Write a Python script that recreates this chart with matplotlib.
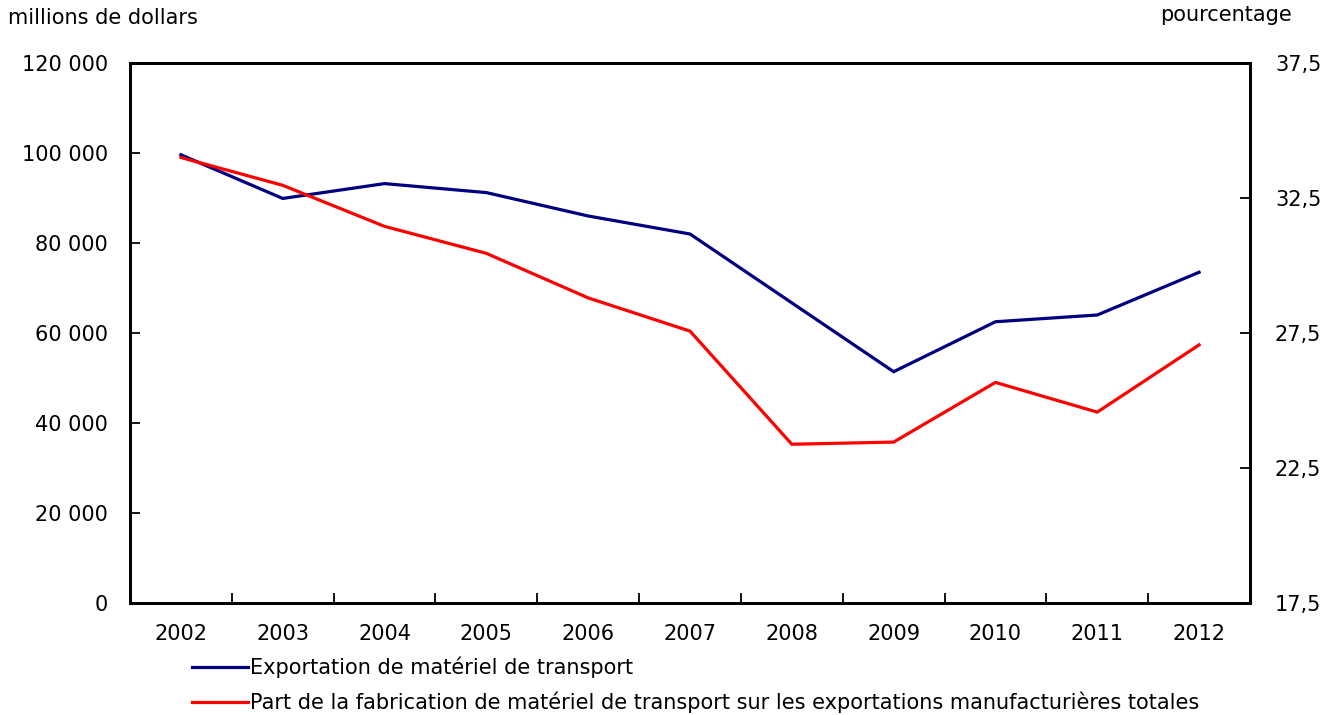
import matplotlib
matplotlib.use('Agg')
import matplotlib.pyplot as plt
from matplotlib.ticker import FuncFormatter, FixedLocator

years = ['2002', '2003', '2004', '2005', '2006', '2007', '2008', '2009', '2010', '2011', '2012']
exports_musd = [99600, 89900, 93200, 91200, 86000, 82000, 66700, 51400, 62500, 64000, 73500]
share_pct = [34.0, 32.97, 31.45, 30.45, 28.8, 27.57, 23.38, 23.46, 25.67, 24.57, 27.06]

left_ticks = [0, 20000, 40000, 60000, 80000, 100000, 120000]
right_ticks = [17.5, 22.5, 27.5, 32.5, 37.5]

label_exports = 'Exportation de matériel de transport'
label_share = 'Part de la fabrication de matériel de transport sur les exportations manufacturières totales'

NAVY = '#000080'
RED = '#ff0000'
FS = 15

plt.rcParams['font.family'] = ['DejaVu Sans']

fig = plt.figure(figsize=(13.36, 7.15), dpi=100)
ax = fig.add_axes([130 / 1336, 112 / 715, 1120 / 1336, 540 / 715])
ax2 = ax.twinx()

x = list(range(len(years)))
l1, = ax.plot(x, exports_musd, color=NAVY, linewidth=2.3, solid_joinstyle='miter', zorder=3)
l2, = ax2.plot(x, share_pct, color=RED, linewidth=2.3, solid_joinstyle='miter', zorder=3)

ax.set_xlim(-0.5, len(years) - 0.5)
ax.set_ylim(0, 120000)
ax2.set_ylim(17.5, 37.5)

ax.set_yticks(left_ticks)
ax.yaxis.set_major_formatter(FuncFormatter(lambda v, _: f'{v:,.0f}'.replace(',', ' ')))
ax2.set_yticks(right_ticks)
ax2.yaxis.set_major_formatter(FuncFormatter(lambda v, _: f'{v:.1f}'.replace('.', ',')))

# category labels centred, ticks at the boundaries
ax.set_xticks(x)
ax.set_xticklabels(years)
ax.xaxis.set_minor_locator(FixedLocator([i + 0.5 for i in x[:-1]]))
ax.tick_params(axis='x', which='major', length=0, pad=15, labelsize=FS)
ax.tick_params(axis='x', which='minor', direction='in', length=7, width=1.3)
ax.tick_params(axis='y', direction='in', length=7, width=1.3, pad=16, labelsize=FS)
ax2.tick_params(axis='y', direction='in', length=7, width=1.3, pad=18, labelsize=FS)

for a in (ax, ax2):
	for s in a.spines.values():
		s.set_linewidth(2)
		s.set_color('black')

fig.text(8 / 1336, 1 - 18 / 715, 'millions de dollars', fontsize=FS, ha='left', va='center')
fig.text(1292 / 1336, 1 - 15 / 715, 'pourcentage', fontsize=FS, ha='right', va='center')

fig.legend(
	[l1, l2], [label_exports, label_share],
	loc='upper left', bbox_to_anchor=(192 / 1336, 1 - 657 / 715),
	frameon=False, fontsize=FS, handlelength=2.7, handletextpad=0.1,
	labelspacing=0.62, borderpad=0, borderaxespad=0,
)

fig.savefig('out.png', dpi=100)
